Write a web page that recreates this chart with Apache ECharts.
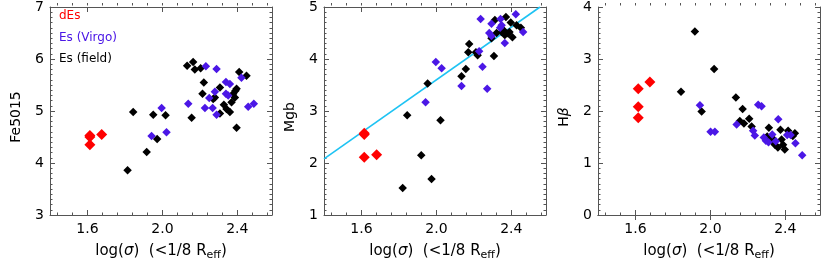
<!DOCTYPE html>
<html>
<head>
<meta charset="utf-8">
<script src="https://cdn.jsdelivr.net/npm/echarts@6/dist/echarts.min.js"></script>
<style>html,body{margin:0;padding:0;background:#fff}#c{width:830px;height:267px}</style>
</head>
<body>
<div id="c"></div>
<script>
// ---- data ----
const xTickLabels = [1.6, 2.0, 2.4];
const panelNames = ['Fe5015', 'Mgb', 'Hβ'];
const yRanges = [[3, 7], [1, 5], [0, 4]];

const fe_dEs = [[1.613,4.53],[1.613,4.50],[1.613,4.35],[1.676,4.55]];
const fe_virgo = [[1.996,5.06],[1.942,4.52],[2.022,4.59],[2.138,5.14],[2.232,5.86],[2.289,5.81],[2.422,5.64],[2.339,5.56],[2.36,5.52],[2.28,5.37],[2.25,5.25],[2.339,5.33],[2.351,5.30],[2.227,5.06],[2.268,5.06],[2.289,4.93],[2.458,5.08],[2.488,5.14]];
const fe_field = [[1.814,3.86],[1.844,4.98],[1.916,4.21],[1.951,4.93],[1.972,4.46],[2.017,4.92],[2.132,5.87],[2.164,5.94],[2.173,5.80],[2.204,5.82],[2.221,5.55],[2.214,5.33],[2.307,5.45],[2.28,5.26],[2.271,5.23],[2.39,5.39],[2.396,5.43],[2.378,5.33],[2.387,5.26],[2.41,5.75],[2.449,5.68],[2.369,5.17],[2.328,5.12],[2.342,5.04],[2.36,4.98],[2.307,4.95],[2.156,4.87],[2.396,4.68]];

const mg_dEs = [[1.615,2.57],[1.615,2.55],[1.615,2.11],[1.681,2.16]];
const mg_virgo = [[1.942,3.17],[1.997,3.94],[2.028,3.82],[2.134,3.48],[2.228,4.15],[2.246,3.85],[2.271,3.43],[2.236,4.77],[2.294,4.68],[2.342,4.77],[2.348,4.65],[2.424,4.86],[2.463,4.52],[2.282,4.50],[2.294,4.44],[2.365,4.31],[2.34,4.60]];
const mg_field = [[1.82,1.52],[1.844,2.92],[1.919,2.15],[1.953,3.53],[1.974,1.69],[2.022,2.82],[2.134,3.67],[2.157,3.81],[2.17,4.13],[2.175,4.29],[2.211,4.13],[2.22,4.07],[2.307,4.06],[2.312,4.75],[2.371,4.81],[2.397,4.70],[2.428,4.65],[2.451,4.60],[2.321,4.50],[2.348,4.52],[2.365,4.46],[2.383,4.49],[2.406,4.42],[2.294,4.40],[2.36,4.55],[2.39,4.52]];
const mg_fit = [[1.4,2.08],[2.553,5.0]];

const hb_dEs = [[1.615,2.43],[1.615,2.08],[1.615,1.87],[1.677,2.56]];
const hb_virgo = [[1.944,2.11],[2.001,1.60],[2.024,1.60],[2.14,1.74],[2.255,2.12],[2.273,2.09],[2.228,1.62],[2.237,1.53],[2.285,1.49],[2.296,1.43],[2.362,1.84],[2.349,1.42],[2.428,1.54],[2.454,1.38],[2.49,1.15],[2.41,1.54],[2.33,1.55],[2.31,1.40]];
const hb_field = [[1.843,2.37],[1.917,3.53],[1.953,1.99],[2.02,2.81],[2.136,2.26],[2.172,2.04],[2.157,1.81],[2.179,1.76],[2.207,1.85],[2.22,1.70],[2.312,1.68],[2.374,1.64],[2.415,1.62],[2.451,1.57],[2.303,1.51],[2.326,1.43],[2.344,1.35],[2.38,1.45],[2.388,1.35],[2.397,1.26],[2.44,1.52],[2.36,1.30],[2.33,1.48]];

const panelData = [
  {dEs: fe_dEs, virgo: fe_virgo, field: fe_field},
  {dEs: mg_dEs, virgo: mg_virgo, field: mg_field, fit: mg_fit},
  {dEs: hb_dEs, virgo: hb_virgo, field: hb_field}
];

// ---- layout / style ----
const FONT = 'DejaVu Sans, Verdana, sans-serif';
const AX = '#555';
const xMin = 1.4, xMax = 2.585;
const xMinorTicks = [];
for (let k = 0; ; k++) { const v = +(1.44 + 0.08 * k).toFixed(2); if (v >= xMax) break; xMinorTicks.push(v); }
const lefts = [50, 324, 598];
const gTop = 3, gW = 222, gH = 212;
const RED = '#ff0000', BLUE = '#4b17e6', BLACK = '#000000';

const grids = [], xAxes = [], yAxes = [], series = [];
const yNameRich = {
  n: {fontSize: 14, fontFamily: FONT, color: '#000', lineHeight: 20},
  i: {fontSize: 14, fontFamily: FONT, color: '#000', fontStyle: 'italic', lineHeight: 20}
};
const xNameRich = {
  n: {fontSize: 15, fontFamily: FONT, color: '#000', lineHeight: 20},
  i: {fontSize: 15, fontFamily: FONT, color: '#000', fontStyle: 'italic', lineHeight: 20},
  s: {fontSize: 11, fontFamily: FONT, color: '#000', lineHeight: 11, padding: [9, 0, 0, 0]}
};
for (let p = 0; p < 3; p++) {
  const g = {left: lefts[p], top: gTop, width: gW, height: gH, containLabel: false};
  grids.push(g, Object.assign({}, g));
  const gi = 2 * p, go = 2 * p + 1;
  const base = {type: 'value', min: xMin, max: xMax, splitLine: {show: false}};
  xAxes.push(Object.assign({}, base, {
    gridIndex: gi, position: 'bottom',
    axisLine: {show: true, lineStyle: {color: AX, width: 1}},
    axisTick: {show: true, inside: true, length: 5, customValues: xTickLabels, lineStyle: {color: AX}},
    axisLabel: {show: true, customValues: xTickLabels, formatter: v => v.toFixed(1), fontSize: 14, fontFamily: FONT, color: '#000', margin: 7},
    name: '{n|log(}{i|σ}{n|)  (<1/8 R}{s|eff}{n|)}',
    nameLocation: 'middle', nameGap: 20,
    nameTextStyle: {rich: xNameRich}
  }));
  xAxes.push(Object.assign({}, base, {
    gridIndex: gi, position: 'top',
    axisLine: {show: true, lineStyle: {color: AX, width: 1}},
    axisTick: {show: true, inside: true, length: 5, customValues: xTickLabels, lineStyle: {color: AX}},
    axisLabel: {show: false}
  }));
  ['bottom', 'top'].forEach(pos => xAxes.push(Object.assign({}, base, {
    gridIndex: go, position: pos,
    axisLine: {show: false},
    axisTick: {show: true, inside: true, length: 2.5, customValues: xMinorTicks, lineStyle: {color: AX}},
    axisLabel: {show: false}
  })));
  const [yMin, yMax] = yRanges[p];
  const ybase = {type: 'value', min: yMin, max: yMax, interval: 1, splitLine: {show: false},
    minorTick: {show: true, splitNumber: 10, length: 2.5, lineStyle: {color: AX}},
    axisLine: {show: true, lineStyle: {color: AX, width: 1}},
    axisTick: {show: true, inside: true, length: 5, lineStyle: {color: AX}}};
  const yname = p === 2 ? '{n|H}{i|β}' : '{n|' + panelNames[p] + '}';
  yAxes.push(Object.assign({}, ybase, {
    gridIndex: gi, position: 'left',
    axisLabel: {show: true, fontSize: 14, fontFamily: FONT, color: '#000', margin: 6, showMinLabel: true, showMaxLabel: true},
    name: yname, nameLocation: 'middle', nameGap: 24, nameRotate: 90,
    nameTextStyle: {rich: yNameRich, padding: [0, 12, 0, 0]}
  }));
  yAxes.push(Object.assign({}, ybase, {gridIndex: gi, position: 'right', axisLabel: {show: false}}));
  yAxes.push({type: 'value', gridIndex: go, min: yMin, max: yMax, show: false});

  const d = panelData[p];
  const xi = 4 * p, yi = 3 * p;
  if (d.fit) {
    series.push({type: 'line', name: 'fit', xAxisIndex: xi, yAxisIndex: yi, data: d.fit,
      symbol: 'none', lineStyle: {color: '#1ec3f3', width: 1.6}, silent: true, z: 1});
  }
  series.push({type: 'scatter', name: 'Es (field)', xAxisIndex: xi, yAxisIndex: yi, data: d.field,
    symbol: 'diamond', symbolSize: 8.5, itemStyle: {color: BLACK, opacity: 1}, z: 2});
  series.push({type: 'scatter', name: 'Es (Virgo)', xAxisIndex: xi, yAxisIndex: yi, data: d.virgo,
    symbol: 'diamond', symbolSize: 8.5, itemStyle: {color: BLUE, opacity: 1}, z: 3});
  series.push({type: 'scatter', name: 'dEs', xAxisIndex: xi, yAxisIndex: yi, data: d.dEs,
    symbol: 'diamond', symbolSize: 11, itemStyle: {color: RED, opacity: 1}, z: 4});
}

const chart = echarts.init(document.getElementById('c'), null, {renderer: 'canvas'});
chart.setOption({
  animation: false,
  backgroundColor: '#fff',
  grid: grids,
  xAxis: xAxes,
  yAxis: yAxes,
  legend: {
    orient: 'vertical', left: 49, top: 5, itemWidth: 0, itemHeight: 12, itemGap: 9.5,
    selectedMode: false, icon: 'rect', itemStyle: {opacity: 0},
    textStyle: {fontSize: 12, fontFamily: FONT},
    data: [
      {name: 'dEs', textStyle: {color: RED}},
      {name: 'Es (Virgo)', textStyle: {color: BLUE}},
      {name: 'Es (field)', textStyle: {color: BLACK}}
    ]
  },
  series: series
});
</script>
</body>
</html>
